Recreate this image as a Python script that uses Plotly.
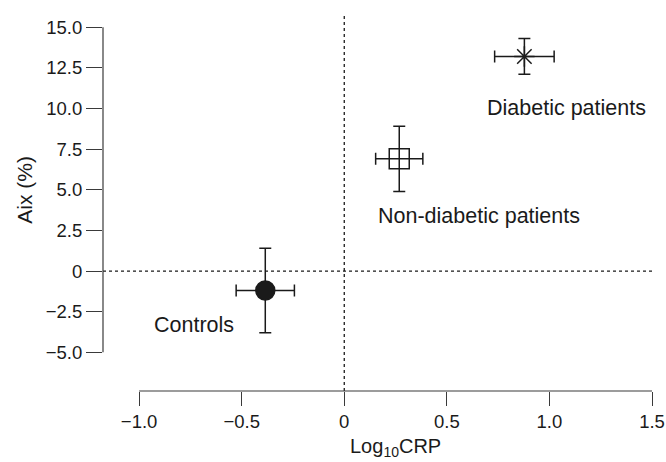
import plotly.graph_objects as go

groups = ["Controls", "Non-diabetic patients", "Diabetic patients"]
log_crp = [-0.385, 0.268, 0.878]
log_crp_err = [0.142, 0.115, 0.145]
aix = [-1.2, 6.9, 13.2]
aix_err = [2.6, 2.0, 1.1]
symbols = ["circle", "square-open", "asterisk-open"]
marker_sizes = [19, 20, 17]
label_x = [-0.734, 0.659, 1.081]
label_y = [-3.35, 3.38, 10.03]

x_ticks = [-1.0, -0.5, 0, 0.5, 1.0, 1.5]
x_ticktext = ["\u22121.0", "\u22120.5", "0", "0.5", "1.0", "1.5"]
y_ticks = [15.0, 12.5, 10.0, 7.5, 5.0, 2.5, 0, -2.5, -5.0]
y_ticktext = ["15.0", "12.5", "10.0", "7.5", "5.0", "2.5", "0", "\u22122.5", "\u22125.0"]

ink = "#1a1a1a"
axis_col = "#3a3a3a"
fig = go.Figure()
for i, g in enumerate(groups):
    fig.add_trace(go.Scatter(
        x=[log_crp[i]], y=[aix[i]], mode="markers", name=g,
        marker=dict(symbol=symbols[i], size=marker_sizes[i],
                    color=ink, line=dict(color=ink, width=1.5)),
        error_x=dict(type="data", array=[log_crp_err[i]], color=ink, thickness=1.5, width=6),
        error_y=dict(type="data", array=[aix_err[i]], color=ink, thickness=1.5, width=6),
        showlegend=False,
    ))
    fig.add_annotation(x=label_x[i], y=label_y[i], text=g, showarrow=False,
                       font=dict(size=21.5, color=ink))

# reference lines
fig.add_shape(type="line", xref="paper", x0=0, x1=1, yref="y", y0=0, y1=0,
              line=dict(color=ink, width=1.3, dash="dot"), layer="below")
fig.add_shape(type="line", xref="x", x0=0, x1=0, yref="paper", y0=0, y1=1,
              line=dict(color=ink, width=1.3, dash="dot"), layer="below")
# detached axis lines
fig.add_shape(type="line", xref="x", x0=x_ticks[0], x1=x_ticks[-1], yref="paper", y0=0, y1=0,
              line=dict(color=axis_col, width=1.2))
fig.add_shape(type="line", xref="paper", x0=0, x1=0, yref="y", y0=y_ticks[-1], y1=y_ticks[0],
              line=dict(color=axis_col, width=1.2))

# axis titles centred on the drawn axis lines
fig.add_annotation(xref="paper", x=0, xshift=-78, xanchor="center", yanchor="middle",
                   yref="y", y=(y_ticks[0] + y_ticks[-1]) / 2,
                   text="Aix (%)", textangle=-90, showarrow=False,
                   font=dict(size=21, color=ink))
fig.add_annotation(xref="x", x=(x_ticks[0] + x_ticks[-1]) / 2, xanchor="center",
                   yref="paper", y=0, yshift=-71,
                   text="Log<sub>10</sub>CRP", showarrow=False,
                   font=dict(size=20, color=ink))

fig.update_layout(
    width=666, height=462,
    margin=dict(l=103, r=14, t=15, b=71),
    paper_bgcolor="white", plot_bgcolor="white",
    font=dict(family="Liberation Sans, Arial, sans-serif", size=18, color=ink),
    xaxis=dict(range=[-1.176, 1.5], tickvals=x_ticks, ticktext=x_ticktext,
               ticks="outside", ticklen=14, tickwidth=1.2, tickcolor=axis_col,
               showgrid=False, zeroline=False, showline=False, automargin=False,
               tickfont=dict(size=18.5)),
    yaxis=dict(range=[-7.38, 15.75], tickvals=y_ticks, ticktext=y_ticktext,
               ticks="outside", ticklen=16, tickwidth=1.2, tickcolor=axis_col,
               showgrid=False, zeroline=False, showline=False, automargin=False,
               tickfont=dict(size=18.5)),
)
fig.write_html("out.html", config={"displayModeBar": False},
               post_script="document.body.style.margin='0';document.body.style.overflow='hidden';")
